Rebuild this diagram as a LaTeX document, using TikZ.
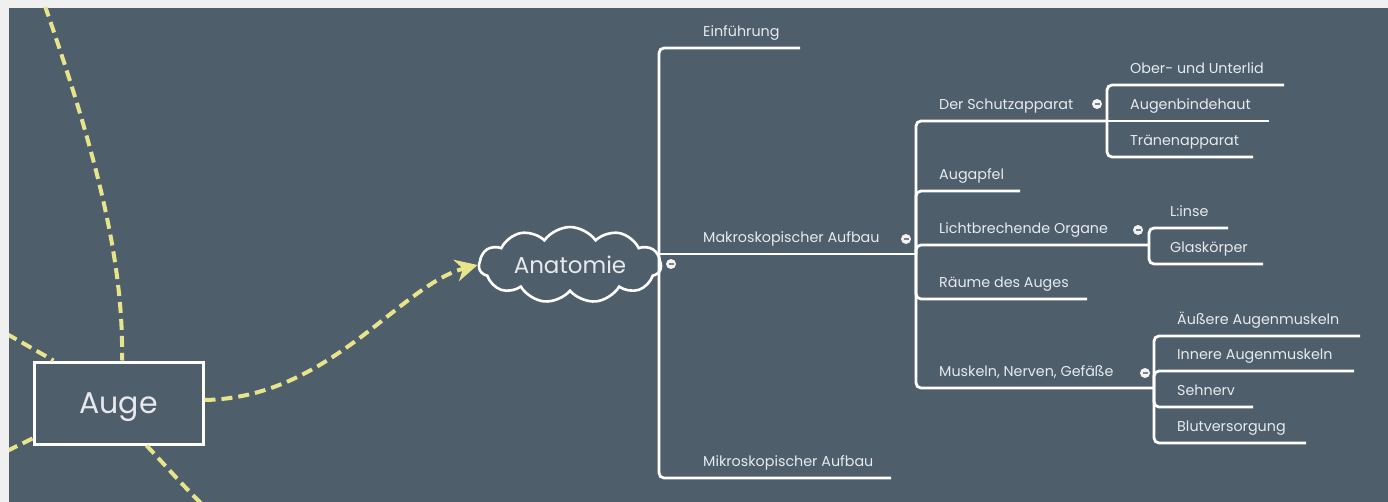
\documentclass[tikz,border=0pt]{standalone}
\usepackage{fontspec}
\setmainfont{Poppins}
\usetikzlibrary{shapes.symbols,arrows.meta,calc}
\definecolor{bg}{RGB}{79,94,107}
\definecolor{outer}{RGB}{240,240,240}
\definecolor{yel}{RGB}{232,228,140}
\definecolor{txt}{RGB}{230,234,238}
\tikzset{
  lbl/.style={anchor=base west, inner sep=0pt, text=txt, font=\fontsize{14.3}{16}\selectfont},
  tree/.style={draw=white, line width=2.8pt, rounded corners=5pt},
  yline/.style={draw=yel, line width=4pt, dash pattern=on 11pt off 6pt},
  collapse/.style={circle, fill=white!90!gray, inner sep=0pt, minimum size=10pt,
    path picture={\draw[gray, line width=1.3pt] ([xshift=-2.5pt]path picture bounding box.center) -- ([xshift=2.5pt]path picture bounding box.center);}},
}
\begin{document}
\begin{tikzpicture}[x=1pt,y=-1pt]
\useasboundingbox (0,0) rectangle (1388,502);
\fill[outer] (0,0) rectangle (1388,502);
\fill[bg] (9,8) rectangle (1388,502);
\begin{scope}
\clip (9,8) rectangle (1388,502);
% central nodes
\node[draw=white, line width=3pt, minimum width=169pt, minimum height=82pt, inner sep=0pt,
      text=txt, font=\fontsize{30}{34}\selectfont] (auge) at (118.5,403) {\raisebox{-4pt}[\height][\depth]{Auge}};
\node[cloud, cloud puffs=11, cloud puff arc=110, aspect=2.9, draw=white, line width=2.6pt,
      minimum width=182pt, minimum height=64pt, inner sep=0pt,
      text=txt, font=\fontsize{23}{27}\selectfont] (anat) at (570,265) {Anatomie};
% yellow relations
\coordinate (y1) at (45,6);
\coordinate (y2) at (7,334);
\coordinate (y3) at (7,451);
\coordinate (y4) at (204,506);
\draw[yline] (y1) .. controls (95,150) and (124,260) .. ([xshift=3.5pt]auge.north);
\draw[yline] (y2) -- ([xshift=21pt]auge.north west);
\draw[yline] ([yshift=7pt]auge.south west) -- (y3);
\draw[yline] ([xshift=28pt]auge.south) .. controls (165,465) and (185,488) .. (y4);
\draw[yline, -{Stealth[length=22pt,width=22pt,inset=7pt]}] ([yshift=3pt]auge.east) .. controls (330,398) and (400,285) .. (anat.west);
\end{scope}
% level 1
\coordinate (j1) at (659,254);
\coordinate (einfE) at (800,48);
\coordinate (makE) at (916,254);
\coordinate (mikE) at (891,478);
\draw[tree] (j1) |- (einfE);
\draw[tree] (j1) |- (mikE);
\draw[tree] (j1) -- (makE);
\node[lbl] (einf) at (703,36.5) {Einführung};
\node[lbl] (mak) at (703,242.5) {Makroskopischer Aufbau};
\node[lbl] (mik) at (703,466.5) {Mikroskopischer Aufbau};
% level 2
\coordinate (schE) at (1107,121);
\coordinate (augE) at (1020,191);
\coordinate (lichE) at (1149,245);
\coordinate (raumE) at (1087,299);
\coordinate (muskE) at (1154,388);
\draw[tree] (makE) |- (schE);
\draw[tree] (makE) |- (augE);
\draw[tree] (makE) |- (lichE);
\draw[tree] (makE) |- (raumE);
\draw[tree] (makE) |- (muskE);
\node[lbl] (sch) at (939,109.5) {Der Schutzapparat};
\node[lbl] (aug) at (939,179.5) {Augapfel};
\node[lbl] (lich) at (939,233.5) {Lichtbrechende Organe};
\node[lbl] (raum) at (939,287.5) {Räume des Auges};
\node[lbl] (musk) at (939,376.5) {Muskeln, Nerven, Gefäße};
% level 3 Schutzapparat
\coordinate (oberE) at (1284,85);
\coordinate (bindE) at (1269,121);
\coordinate (traenE) at (1253,157);
\draw[tree] (schE) |- (oberE);
\draw[tree] (schE) -- (bindE);
\draw[tree] (schE) |- (traenE);
\node[lbl] (ober) at (1130,73.5) {Ober- und Unterlid};
\node[lbl] (bind) at (1130,109.5) {Augenbindehaut};
\node[lbl] (traen) at (1130,145.5) {Tränenapparat};
% level 3 Lichtbrechende Organe
\coordinate (linseE) at (1228,228);
\coordinate (glasE) at (1263,264);
\draw[tree] (lichE) |- (linseE);
\draw[tree] (lichE) |- (glasE);
\node[lbl] (linse) at (1170,216.5) {L:inse};
\node[lbl] (glas) at (1170,252.5) {Glaskörper};
% level 3 Muskeln
\coordinate (ausE) at (1360,336);
\coordinate (innE) at (1354,371);
\coordinate (sehE) at (1253,407);
\coordinate (blutE) at (1306,443);
\draw[tree] (muskE) |- (ausE);
\draw[tree] (muskE) |- (innE);
\draw[tree] (muskE) |- (sehE);
\draw[tree] (muskE) |- (blutE);
\node[lbl] (aus) at (1177,324.5) {Äußere Augenmuskeln};
\node[lbl] (inn) at (1177,359.5) {Innere Augenmuskeln};
\node[lbl] (seh) at (1177,395.5) {Sehnerv};
\node[lbl] (blut) at (1177,431.5) {Blutversorgung};
% collapse markers
\node[collapse] (c0) at (671,264) {};
\node[collapse] (c1) at (906,239) {};
\node[collapse] (c2) at (1097,104) {};
\node[collapse] (c3) at (1138,230) {};
\node[collapse] (c4) at (1145,373) {};
\end{tikzpicture}
\end{document}
